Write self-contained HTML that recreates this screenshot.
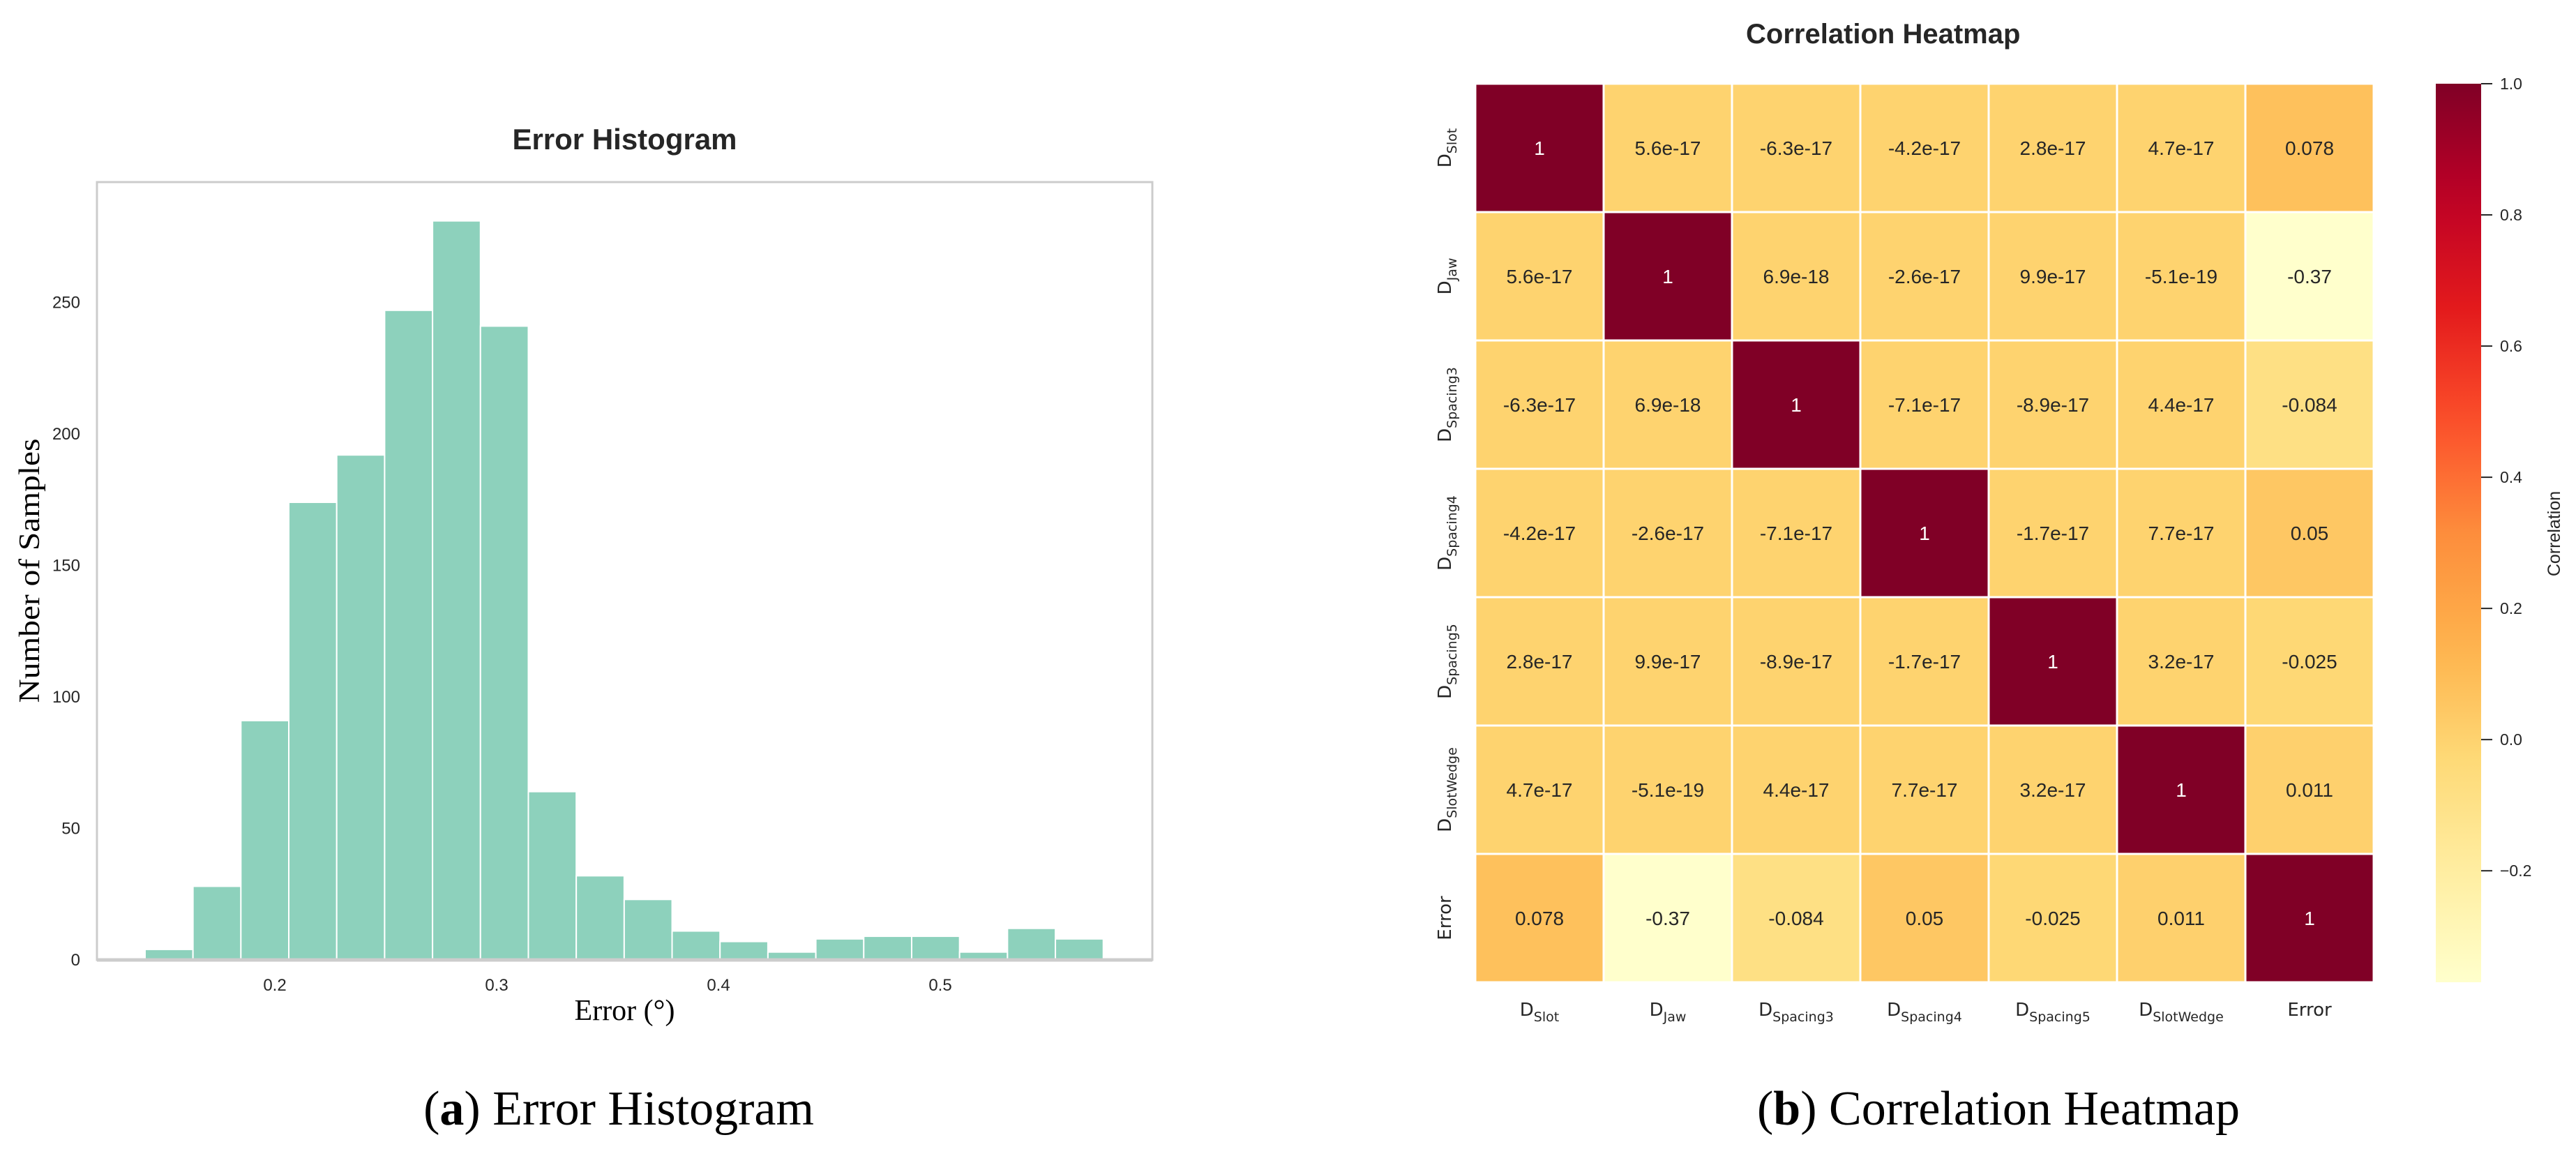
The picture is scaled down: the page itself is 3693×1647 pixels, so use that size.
<!DOCTYPE html>
<html><head><meta charset="utf-8"><style>
html,body{margin:0;padding:0;background:#fff}
svg{display:block}
</style></head><body>
<svg id="fig" width="3693" height="1647" viewBox="0 0 3693 1647" xmlns="http://www.w3.org/2000/svg">
<defs>
<linearGradient id="cbgrad" x1="0" y1="1" x2="0" y2="0"></linearGradient>
</defs>
<g id="hist"></g>
<g id="heat"></g>
<text x="887" y="1612" font-family="Liberation Serif, serif" font-size="70" text-anchor="middle" fill="#000">(<tspan font-weight="bold">a</tspan>) Error Histogram</text>
<text x="2865" y="1612" font-family="Liberation Serif, serif" font-size="70" text-anchor="middle" fill="#000">(<tspan font-weight="bold">b</tspan>) Correlation Heatmap</text>
</svg>
<script>
// ---------- Histogram data ----------
const binStart = 0.1415;
const binWidth = 0.0216;
const counts = [4, 28, 91, 174, 192, 247, 281, 241, 64, 32, 23, 11, 7, 3, 8, 9, 9, 3, 12, 8];
const yTicks = [0, 50, 100, 150, 200, 250];
const xTicks = [0.2, 0.3, 0.4, 0.5];

// ---------- Heatmap data ----------
const labelsMain = ["D", "D", "D", "D", "D", "D", "Error"];
const labelsSub = ["Slot", "Jaw", "Spacing3", "Spacing4", "Spacing5", "SlotWedge", ""];
const corrRow0 = [1, 5.6e-17, -6.3e-17, -4.2e-17, 2.8e-17, 4.7e-17, 0.078];
const corrRow1 = [5.6e-17, 1, 6.9e-18, -2.6e-17, 9.9e-17, -5.1e-19, -0.37];
const corrRow2 = [-6.3e-17, 6.9e-18, 1, -7.1e-17, -8.9e-17, 4.4e-17, -0.084];
const corrRow3 = [-4.2e-17, -2.6e-17, -7.1e-17, 1, -1.7e-17, 7.7e-17, 0.05];
const corrRow4 = [2.8e-17, 9.9e-17, -8.9e-17, -1.7e-17, 1, 3.2e-17, -0.025];
const corrRow5 = [4.7e-17, -5.1e-19, 4.4e-17, 7.7e-17, 3.2e-17, 1, 0.011];
const corrRow6 = [0.078, -0.37, -0.084, 0.05, -0.025, 0.011, 1];
const cellText0 = ["1", "5.6e-17", "-6.3e-17", "-4.2e-17", "2.8e-17", "4.7e-17", "0.078"];
const cellText1 = ["5.6e-17", "1", "6.9e-18", "-2.6e-17", "9.9e-17", "-5.1e-19", "-0.37"];
const cellText2 = ["-6.3e-17", "6.9e-18", "1", "-7.1e-17", "-8.9e-17", "4.4e-17", "-0.084"];
const cellText3 = ["-4.2e-17", "-2.6e-17", "-7.1e-17", "1", "-1.7e-17", "7.7e-17", "0.05"];
const cellText4 = ["2.8e-17", "9.9e-17", "-8.9e-17", "-1.7e-17", "1", "3.2e-17", "-0.025"];
const cellText5 = ["4.7e-17", "-5.1e-19", "4.4e-17", "7.7e-17", "3.2e-17", "1", "0.011"];
const cellText6 = ["0.078", "-0.37", "-0.084", "0.05", "-0.025", "0.011", "1"];
const cbTicks = [-0.2, 0.0, 0.2, 0.4, 0.6, 0.8, 1.0];
const cbTickText = ["−0.2", "0.0", "0.2", "0.4", "0.6", "0.8", "1.0"];
const vmin = -0.37, vmax = 1.0;

const NS = "http://www.w3.org/2000/svg";
function mk(tag, attrs, parent, txt) {
  const e = document.createElementNS(NS, tag);
  for (const k in attrs) e.setAttribute(k, attrs[k]);
  if (txt !== undefined) e.textContent = txt;
  parent.appendChild(e);
  return e;
}

// ---------- Histogram ----------
const H = document.getElementById('hist');
const axL = 139, axR = 1652, axT = 261, axB = 1376;
const x0px = 394, xPerUnit = 3180; // 0.2 at 394
const xs = v => x0px + (v - 0.2) * xPerUnit;
const ys = v => axB - v * 3.77;

let t = mk('text', {x: (axL + axR) / 2, y: 214, 'font-family': 'Liberation Sans, sans-serif', 'font-size': 42, 'font-weight': 'bold', 'text-anchor': 'middle', fill: '#262626'}, H, 'Error Histogram');



let fr = mk('rect', {x: axL, y: axT, width: axR - axL, height: axB - axT, fill: 'none', stroke: '#cccccc', 'stroke-width': 3}, H);



counts.forEach((c, i) => {
  const xa = xs(binStart + i * binWidth), xb = xs(binStart + (i + 1) * binWidth);
  const r = mk('rect', {x: xa, y: ys(c), width: xb - xa, height: axB - ys(c), fill: '#8dd1bc', stroke: '#ffffff', 'stroke-width': 2}, H);
  
  
});
mk('line', {x1: axL, x2: axR, y1: axB, y2: axB, stroke: '#cccccc', 'stroke-width': 5}, H);

yTicks.forEach(v => {
  const e = mk('text', {x: 115, y: ys(v) + 8, 'font-family': 'Liberation Sans, sans-serif', 'font-size': 24, 'text-anchor': 'end', fill: '#262626'}, H, String(v));
  
  
});
xTicks.forEach(v => {
  const e = mk('text', {x: xs(v), y: 1420, 'font-family': 'Liberation Sans, sans-serif', 'font-size': 24, 'text-anchor': 'middle', fill: '#262626'}, H, String(v));
  
  
});
t = mk('text', {x: (axL + axR) / 2, y: 1462, 'font-family': 'Liberation Serif, serif', 'font-size': 42, 'text-anchor': 'middle', fill: '#000'}, H, 'Error (°)');


t = mk('text', {x: 0, y: 0, transform: 'translate(56,818) rotate(-90)', 'font-family': 'Liberation Serif, serif', 'font-size': 42, 'text-anchor': 'middle', textLength: 379, lengthAdjust: 'spacingAndGlyphs', fill: '#000'}, H, 'Number of Samples');



// ---------- Heatmap ----------
const stops = ['#ffffcc', '#ffeda0', '#fed976', '#feb24c', '#fd8d3c', '#fc4e2a', '#e31a1c', '#bd0026', '#800026'];
function hex2rgb(h) { return [1, 3, 5].map(i => parseInt(h.substr(i, 2), 16)); }
function cmap(v) {
  let f = (v - vmin) / (vmax - vmin);
  f = Math.max(0, Math.min(1, f));
  const p = f * (stops.length - 1), i = Math.min(stops.length - 2, Math.floor(p)), fr2 = p - i;
  const a = hex2rgb(stops[i]), b = hex2rgb(stops[i + 1]);
  return 'rgb(' + a.map((c, k) => Math.round(c + (b[k] - c) * fr2)).join(',') + ')';
}
const G = document.getElementById('heat');
const hmL = 2115, hmT = 120, cell = 184;
const rows = [corrRow0, corrRow1, corrRow2, corrRow3, corrRow4, corrRow5, corrRow6];
const texts = [cellText0, cellText1, cellText2, cellText3, cellText4, cellText5, cellText6];

t = mk('text', {x: 2503, y: 62, 'font-family': 'Liberation Sans, sans-serif', 'font-size': 40, 'font-weight': 'bold', fill: '#262626'}, G, 'Correlation Heatmap');



rows.forEach((row, r) => {
  row.forEach((v, c) => {
    const rc = mk('rect', {x: hmL + c * cell, y: hmT + r * cell, width: cell, height: cell, fill: cmap(v), stroke: '#ffffff', 'stroke-width': 3}, G);
    
    
    const tx = mk('text', {x: hmL + c * cell + cell / 2, y: hmT + r * cell + cell / 2 + 10, 'font-family': 'Liberation Sans, sans-serif', 'font-size': 28, 'text-anchor': 'middle', fill: v > 0.6 ? '#ffffff' : '#262626'}, G, texts[r][c]);
    
    
  });
});

labelsMain.forEach((m, i) => {
  const xl = mk('text', {x: hmL + i * cell + cell / 2, y: 1456, 'font-family': 'DejaVu Sans, sans-serif', 'font-size': 26, 'text-anchor': 'middle', fill: '#262626'}, G);
  
  
  mk('tspan', {}, xl, m);
  if (labelsSub[i]) mk('tspan', {'font-size': 19, dy: 8}, xl, labelsSub[i]);
  const yl = mk('text', {x: 0, y: 0, transform: 'translate(2080,' + (hmT + i * cell + cell / 2) + ') rotate(-90)', 'font-family': 'DejaVu Sans, sans-serif', 'font-size': 26, 'text-anchor': 'middle', fill: '#262626'}, G);
  
  
  mk('tspan', {}, yl, m);
  if (labelsSub[i]) mk('tspan', {'font-size': 19, dy: 8}, yl, labelsSub[i]);
});

// colorbar
const cbL = 3492, cbW = 65, cbT = hmT, cbB = hmT + 7 * cell;
const cbY = v => cbB - (v - vmin) / (vmax - vmin) * (cbB - cbT);
const grad = document.getElementById('cbgrad');
for (let k = 0; k <= 20; k++) {
  const v = vmin + (vmax - vmin) * k / 20;
  mk('stop', {offset: (k / 20 * 100) + '%', 'stop-color': cmap(v)}, grad);
}
let cb = mk('rect', {x: cbL, y: cbT, width: cbW, height: cbB - cbT, fill: 'url(#cbgrad)'}, G);


cbTicks.forEach((v, i) => {
  mk('line', {x1: cbL + cbW, x2: cbL + cbW + 16, y1: cbY(v), y2: cbY(v), stroke: '#262626', 'stroke-width': 2}, G);
  const e = mk('text', {x: 3584, y: cbY(v) + 8, 'font-family': 'Liberation Sans, sans-serif', 'font-size': 23, fill: '#262626'}, G, cbTickText[i]);
  
  
});
t = mk('text', {x: 0, y: 0, transform: 'translate(3670,765) rotate(-90)', 'font-family': 'Liberation Sans, sans-serif', 'font-size': 25, 'text-anchor': 'middle', fill: '#262626'}, G, 'Correlation');


</script>
</body></html>
